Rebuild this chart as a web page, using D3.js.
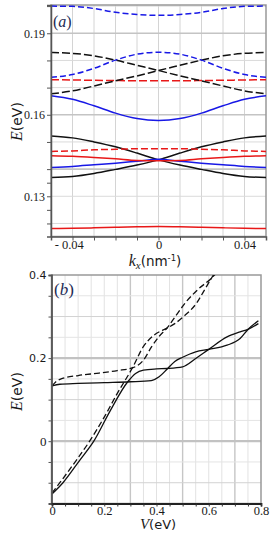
<!DOCTYPE html>
<html>
<head>
<meta charset="utf-8">
<script src="https://cdn.jsdelivr.net/npm/d3@7/dist/d3.min.js"></script>
<style>
  body { margin: 0; background: #fff; }
  svg { display: block; }
  .serif { font-family: "Liberation Serif", "Times New Roman", serif; }
  .sans { font-family: "DejaVu Sans", sans-serif; }
</style>
</head>
<body>
<svg id="chart" width="273" height="545"></svg>
<script>
// ---------- panel (a): E vs kx ----------
var kx = [-0.05, -0.04, -0.03, -0.02, -0.01, 0, 0.01, 0.02, 0.03, 0.04, 0.05];

var blueDashTop  = [0.2000, 0.1999, 0.1991, 0.1977, 0.1969, 0.1966, 0.1969, 0.1977, 0.1991, 0.1999, 0.2000];
var blueDashMid  = [0.1738, 0.1748, 0.1771, 0.1801, 0.1823, 0.1830, 0.1823, 0.1801, 0.1771, 0.1748, 0.1738];
var blackDashA   = [0.1829, 0.1826, 0.1817, 0.1801, 0.1782, 0.1763, 0.1743, 0.1725, 0.1706, 0.1688, 0.1677];
var blackDashB   = [0.1677, 0.1688, 0.1706, 0.1725, 0.1743, 0.1763, 0.1782, 0.1801, 0.1817, 0.1826, 0.1829];
var redDashTop   = [0.1729, 0.1728, 0.1727, 0.1726, 0.1725, 0.1725, 0.1725, 0.1726, 0.1727, 0.1728, 0.1729];
var blueSolidTop = [0.1670, 0.1657, 0.1633, 0.1606, 0.1586, 0.1579, 0.1586, 0.1606, 0.1633, 0.1657, 0.1670];
var blackSolidA  = [0.1522, 0.1515, 0.1500, 0.1482, 0.1459, 0.1434, 0.1415, 0.1399, 0.1384, 0.1373, 0.1369];
var blackSolidB  = [0.1369, 0.1373, 0.1384, 0.1399, 0.1415, 0.1434, 0.1459, 0.1482, 0.1500, 0.1515, 0.1522];
var redDashLow   = [0.1465, 0.1467, 0.1471, 0.1473, 0.1475, 0.1475, 0.1475, 0.1473, 0.1471, 0.1467, 0.1465];
var redSolidMid  = [0.1449, 0.1447, 0.1443, 0.1438, 0.1432, 0.1431, 0.1432, 0.1438, 0.1443, 0.1447, 0.1449];
var blueSolidLow = [0.1406, 0.1410, 0.1416, 0.1422, 0.1429, 0.1436, 0.1429, 0.1422, 0.1416, 0.1410, 0.1406];
var redSolidLow  = [0.1181, 0.1182, 0.1184, 0.1186, 0.1188, 0.1189, 0.1188, 0.1186, 0.1184, 0.1182, 0.1181];

var aXLabels = [[-0.04, "- 0.04"], [0, "0"], [0.04, "0.04"]];
var aYLabels = [0.13, 0.16, 0.19];

// ---------- panel (b): E vs V ----------
var vS1 = [0, 0.042, 0.106, 0.16, 0.22, 0.29, 0.32, 0.35, 0.4, 0.44, 0.5, 0.55, 0.6, 0.67, 0.72, 0.75, 0.79];
var eS1 = [-0.127, -0.1, -0.046, 0.0, 0.07, 0.143, 0.163, 0.171, 0.174, 0.175, 0.179, 0.199, 0.221, 0.251, 0.263, 0.269, 0.283];
var vS2 = [0, 0.03, 0.1, 0.2, 0.3, 0.38, 0.41, 0.44, 0.47, 0.5, 0.55, 0.6, 0.67, 0.72, 0.75, 0.79];
var eS2 = [0.133, 0.137, 0.139, 0.141, 0.143, 0.146, 0.155, 0.173, 0.192, 0.202, 0.215, 0.221, 0.231, 0.247, 0.269, 0.290];
var vD1 = [0, 0.03, 0.093, 0.144, 0.2, 0.25, 0.31, 0.349, 0.39, 0.44, 0.47, 0.509, 0.553, 0.58, 0.61, 0.64];
var eD1 = [-0.125, -0.1, -0.046, 0.0, 0.058, 0.115, 0.179, 0.227, 0.255, 0.272, 0.283, 0.303, 0.332, 0.360, 0.392, 0.420];
var vD2 = [0, 0.015, 0.04, 0.1, 0.18, 0.25, 0.31, 0.35, 0.381, 0.41, 0.44, 0.47, 0.509, 0.56, 0.61, 0.65];
var eD2 = [0.133, 0.143, 0.151, 0.158, 0.164, 0.170, 0.177, 0.195, 0.227, 0.252, 0.272, 0.298, 0.332, 0.366, 0.392, 0.420];

var bXLabels = [0, 0.2, 0.4, 0.6, 0.8];
var bYLabels = [0, 0.2, 0.4];

// colours
var blueColour = '#1818e6';
var redColour = '#e81818';
var blackColour = '#111';
var textColour = '#1a1a1a';
var panelLabelColour = '#1d2b55';

var svg = d3.select("#chart");

function inList(list, d) {
  return list.some(function (v) { return Math.abs(v - d) < 1e-9; });
}

// ================= panel (a) =================
var ax = d3.scaleLinear().domain([-0.05, 0.05]).range([51, 266]);
var ay = d3.scaleLinear().domain([0.1152, 0.2004]).range([236.5, 5]);

var ga = svg.append("g");
ga.append("clipPath").attr("id", "clipA").append("rect")
  .attr("x", 51).attr("y", 5).attr("width", 215).attr("height", 231.5);

// grid
var aHeavy = [0.14, 0.16, 0.19];
ga.selectAll("line.vgrid").data(d3.range(-4, 5).map(function (i) { return i * 0.01; }))
  .enter().append("line")
  .attr("x1", function (d) { return ax(d); }).attr("x2", function (d) { return ax(d); })
  .attr("y1", 5).attr("y2", 236.5)
  .attr("stroke", "#d4d4d4").attr("stroke-width", 1);
ga.selectAll("line.hgrid").data(d3.range(12, 21).map(function (i) { return i * 0.01; }))
  .enter().append("line")
  .attr("x1", 51).attr("x2", 266)
  .attr("y1", function (d) { return ay(d); }).attr("y2", function (d) { return ay(d); })
  .attr("stroke", function (d) { return inList(aHeavy, d) ? "#c4c4c4" : "#dadada"; })
  .attr("stroke-width", function (d) { return inList(aHeavy, d) ? 1.6 : 1; });

// frame
ga.append("rect").attr("x", 51).attr("y", 5).attr("width", 215).attr("height", 231.5)
  .attr("fill", "none").attr("stroke", "#999").attr("stroke-width", 1.5);

var lineA = d3.line()
  .x(function (d, i) { return ax(kx[i]); })
  .y(function (d) { return ay(d); })
  .curve(d3.curveMonotoneX);

var aSeries = [
  [redSolidLow, redColour, null],
  [blackSolidA, blackColour, null],
  [blackSolidB, blackColour, null],
  [blueSolidLow, blueColour, null],
  [redSolidMid, redColour, null],
  [redDashLow, redColour, "7,3"],
  [blueSolidTop, blueColour, null],
  [redDashTop, redColour, "8,3"],
  [blackDashA, blackColour, "8,3"],
  [blackDashB, blackColour, "8,3"],
  [blueDashMid, blueColour, "6,3"],
  [blueDashTop, blueColour, "6,3"]
];
var curvesA = ga.append("g").attr("clip-path", "url(#clipA)");
aSeries.forEach(function (s) {
  curvesA.append("path")
    .attr("d", lineA(s[0]))
    .attr("fill", "none")
    .attr("stroke", s[1])
    .attr("stroke-width", 1.5)
    .attr("stroke-dasharray", s[2]);
});

// axes
var aLeft = d3.axisLeft(ay)
  .tickValues([0.12, 0.125, 0.13, 0.135, 0.14, 0.15, 0.16, 0.17, 0.18, 0.19, 0.2])
  .tickSize(4).tickPadding(2)
  .tickFormat(function (d) { return inList(aYLabels, d) ? d3.format(".2f")(d) : ""; });
ga.append("g").attr("transform", "translate(51,0)").call(aLeft)
  .call(function (g) {
    g.select(".domain").attr("stroke", "#555").attr("stroke-width", 1.5);
    g.selectAll(".tick line").attr("stroke", "#555");
    g.selectAll("text").attr("class", "serif").attr("font-size", 12).attr("fill", textColour);
  });

var aBottom = d3.axisBottom(ax)
  .tickValues(d3.range(-4, 5).map(function (i) { return i * 0.01; }))
  .tickSize(4).tickPadding(0)
  .tickFormat(function (d) {
    var m = aXLabels.filter(function (v) { return Math.abs(v[0] - d) < 1e-9; });
    return m.length ? m[0][1] : "";
  });
ga.append("g").attr("transform", "translate(0,236.5)").call(aBottom)
  .call(function (g) {
    g.select(".domain").attr("stroke", "#555").attr("stroke-width", 1.5);
    g.selectAll(".tick line").attr("stroke", "#555");
    g.selectAll("text").attr("class", "serif").attr("font-size", 12.5).attr("fill", textColour)
      .attr("dx", function (d) { return d < 0 ? "-0.3em" : 0; });
  });

// labels
ga.append("text").attr("class", "serif").attr("x", 53).attr("y", 27)
  .attr("font-size", 16).attr("fill", panelLabelColour)
  .html('(<tspan font-style="italic">a</tspan>)');

var yLabA = ga.append("text").attr("transform", "translate(22,141) rotate(-90)").attr("fill", textColour);
yLabA.append("tspan").attr("class", "serif").attr("font-style", "italic").attr("font-size", 16).text("E");
yLabA.append("tspan").attr("class", "sans").attr("font-size", 14).text("(eV)");

var xLabA = ga.append("text").attr("x", 155).attr("y", 266).attr("text-anchor", "middle").attr("fill", textColour);
xLabA.append("tspan").attr("class", "serif").attr("font-style", "italic").attr("font-size", 16).text("k");
xLabA.append("tspan").attr("class", "serif").attr("font-style", "italic").attr("font-size", 11).attr("dy", 3).text("x");
xLabA.append("tspan").attr("class", "sans").attr("font-size", 13.5).attr("dy", -3).text("(nm");
xLabA.append("tspan").attr("class", "sans").attr("font-size", 8.5).attr("dy", -5).text("-1");
xLabA.append("tspan").attr("class", "sans").attr("font-size", 13.5).attr("dy", 5).text(")");

// ================= panel (b) =================
var bx = d3.scaleLinear().domain([0, 0.8]).range([52, 261]);
var by = d3.scaleLinear().domain([-0.15, 0.4]).range([503.5, 275]);

var gb = svg.append("g");
gb.append("clipPath").attr("id", "clipB").append("rect")
  .attr("x", 51.5).attr("y", 275).attr("width", 209.5).attr("height", 229);

var vGridB = d3.range(1, 16).map(function (i) { return i * 0.05; });
var vMajorB = [0.3, 0.5, 0.7];
gb.selectAll("line.vgrid").data(vGridB).enter().append("line")
  .attr("x1", function (d) { return bx(d); }).attr("x2", function (d) { return bx(d); })
  .attr("y1", 275).attr("y2", 503.5)
  .attr("stroke", function (d) { return inList(vMajorB, d) ? "#c6c6c6" : "#e2e2e2"; })
  .attr("stroke-width", function (d) { return inList(vMajorB, d) ? 1.4 : 1; });

var hGridB = d3.range(-2, 8).map(function (i) { return i * 0.05; });
var hMajorB = [0, 0.2];
var hMidB = [-0.1, 0.1, 0.3];
gb.selectAll("line.hgrid").data(hGridB).enter().append("line")
  .attr("x1", 51.5).attr("x2", 261)
  .attr("y1", function (d) { return by(d); }).attr("y2", function (d) { return by(d); })
  .attr("stroke", function (d) {
    if (inList(hMajorB, d)) return "#c2c2c2";
    if (inList(hMidB, d)) return "#d2d2d2";
    return "#e4e4e4";
  })
  .attr("stroke-width", function (d) { return inList(hMajorB, d) ? 2.2 : 1; });

gb.append("rect").attr("x", 51.5).attr("y", 275).attr("width", 209.5).attr("height", 228.5)
  .attr("fill", "none").attr("stroke", "#999").attr("stroke-width", 1.5);

var lineB = d3.line()
  .x(function (d) { return bx(d[0]); })
  .y(function (d) { return by(d[1]); })
  .curve(d3.curveMonotoneX);

var bSeries = [
  [vS1, eS1, null],
  [vS2, eS2, null],
  [vD1, eD1, "6,3"],
  [vD2, eD2, "6,3"]
];
var curvesB = gb.append("g").attr("clip-path", "url(#clipB)");
bSeries.forEach(function (s) {
  curvesB.append("path")
    .attr("d", lineB(d3.zip(s[0], s[1])))
    .attr("fill", "none")
    .attr("stroke", blackColour)
    .attr("stroke-width", 1.3)
    .attr("stroke-dasharray", s[2]);
});

var bLeft = d3.axisLeft(by)
  .tickValues(d3.range(-2, 9).map(function (i) { return i * 0.05; }))
  .tickSize(3).tickPadding(2)
  .tickFormat(function (d) { return inList(bYLabels, d) ? (d === 0 ? "0" : d3.format(".1f")(d)) : ""; });
gb.append("g").attr("transform", "translate(51.5,0)").call(bLeft)
  .call(function (g) {
    g.select(".domain").attr("stroke", "#555").attr("stroke-width", 1.8);
    g.selectAll(".tick line").attr("stroke", "#555");
    g.selectAll("text").attr("fill", textColour)
      .attr("class", function (d) { return d === 0 ? "serif" : "sans"; })
      .attr("font-size", function (d) { return d === 0 ? 13 : 11; });
  });

var bBottom = d3.axisBottom(bx)
  .tickValues(d3.range(0, 17).map(function (i) { return i * 0.05; }))
  .tickSize(3).tickPadding(0)
  .tickFormat(function (d) { return inList(bXLabels, d) ? (d === 0 ? "0" : d3.format(".1f")(d)) : ""; });
gb.append("g").attr("transform", "translate(0,503.5)").call(bBottom)
  .call(function (g) {
    g.select(".domain").attr("stroke", "#222").attr("stroke-width", 1.8);
    g.selectAll(".tick line").attr("stroke", "#333");
    g.selectAll("text").attr("class", "serif").attr("font-size", 12.5).attr("fill", textColour);
  });

gb.append("text").attr("class", "serif").attr("x", 54).attr("y", 295)
  .attr("font-size", 17).attr("fill", panelLabelColour)
  .html('(<tspan font-style="italic">b</tspan>)');

var yLabB = gb.append("text").attr("transform", "translate(22,411) rotate(-90)").attr("fill", textColour);
yLabB.append("tspan").attr("class", "serif").attr("font-style", "italic").attr("font-size", 16).text("E");
yLabB.append("tspan").attr("class", "sans").attr("font-size", 14).text("(eV)");

var xLabB = gb.append("text").attr("x", 158).attr("y", 529).attr("text-anchor", "middle").attr("fill", textColour);
xLabB.append("tspan").attr("class", "serif").attr("font-style", "italic").attr("font-size", 15).text("V");
xLabB.append("tspan").attr("class", "sans").attr("font-size", 13).text("(eV)");
</script>
</body>
</html>
